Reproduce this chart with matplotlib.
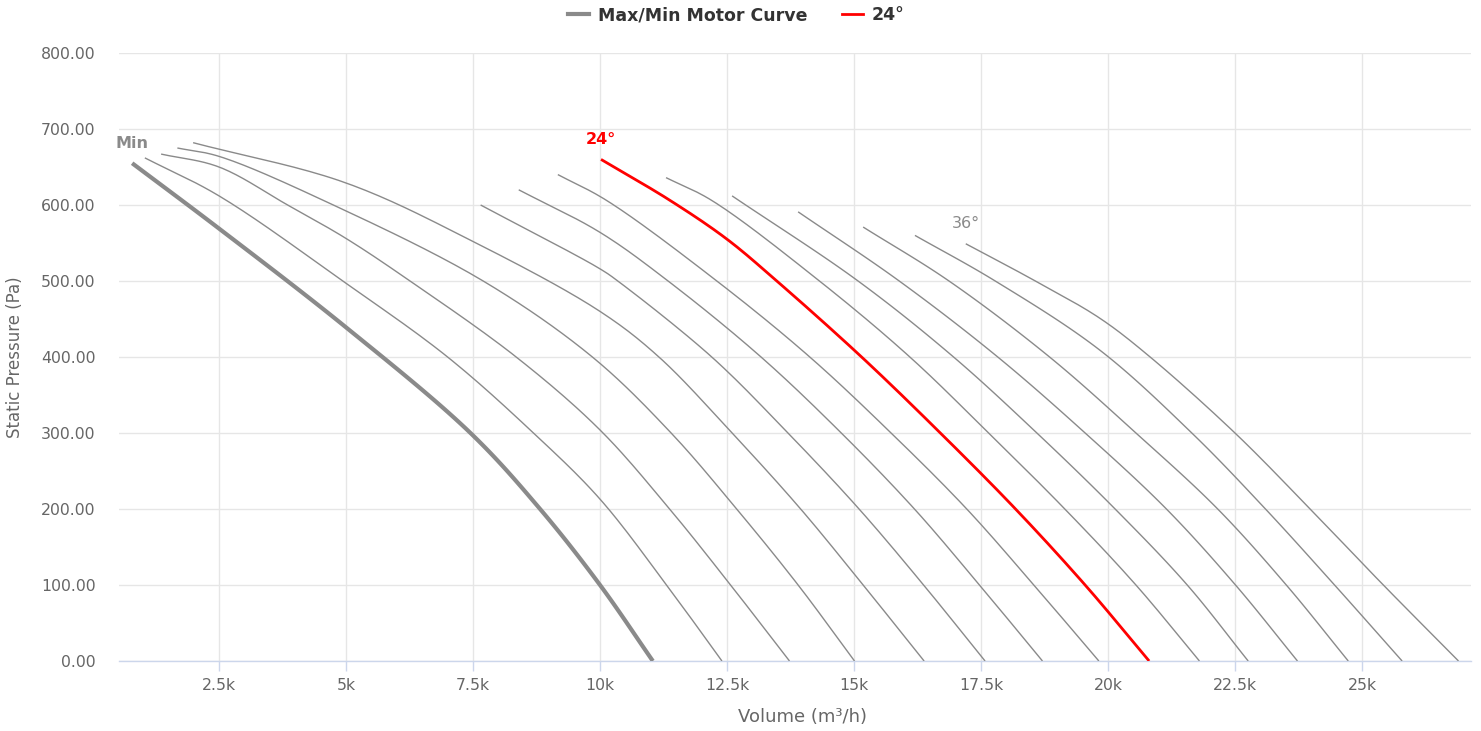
import numpy as np
import matplotlib
matplotlib.use("Agg")
import matplotlib.pyplot as plt
from matplotlib.lines import Line2D

# Max/Min motor curve (thick grey), volume in m3/h, static pressure in Pa
min_q = [790, 2500, 5000, 7450, 8820, 10000, 11040]
min_p = [655, 569, 439, 300, 200, 100, 0]

# blade angle curves, 10 deg .. 36 deg in 2 deg steps
q10 = [1040, 2500, 5000, 7000, 8690, 10000, 11310, 12400]
p10 = [662, 612, 497, 400, 300, 213, 100, 0]
q12 = [1360, 2500, 3850, 5000, 6260, 8350, 10000, 11370, 12570, 13730]
p12 = [667, 650, 600, 556, 500, 400, 304, 200, 100, 0]
q14 = [1680, 2500, 4750, 7700, 9850, 11400, 12690, 13900, 15010]
p14 = [675, 664, 600, 500, 400, 300, 200, 100, 0]
q16 = [1990, 5000, 7500, 10000, 11160, 12600, 13950, 15180, 16380]
p16 = [682, 629, 552, 460, 400, 300, 200, 100, 0]
q18 = [7650, 10000, 10350, 12200, 13700, 15100, 16370, 17580]
p18 = [600, 516, 500, 400, 300, 200, 100, 0]
q20 = [8400, 10000, 11340, 13170, 14750, 16190, 17470, 18710]
p20 = [620, 564, 500, 400, 300, 200, 100, 0]
q22 = [9170, 10130, 12300, 14130, 15730, 17220, 18540, 19820]
p22 = [640, 606, 500, 400, 300, 200, 100, 0]
q24 = [10020, 11380, 12500, 13480, 15150, 16700, 18180, 19550, 20810]
p24 = [660, 606, 555, 500, 400, 300, 200, 100, 0]
q26 = [11300, 12200, 14320, 16100, 17650, 19150, 20550, 21800]
p26 = [636, 606, 500, 400, 300, 200, 100, 0]
q28 = [12600, 15080, 16960, 18600, 20140, 21560, 22760]
p28 = [612, 500, 400, 300, 200, 100, 0]
q30 = [13900, 15890, 17830, 19550, 21150, 22510, 23730]
p30 = [591, 500, 400, 300, 200, 100, 0]
q32 = [15180, 16870, 18850, 20550, 22160, 23510, 24730]
p32 = [571, 500, 400, 300, 200, 100, 0]
q34 = [16200, 17780, 19840, 21650, 23100, 24460, 25790]
p34 = [560, 500, 409, 300, 200, 100, 0]
q36 = [17200, 18570, 19840, 20830, 22500, 23980, 25420, 26900]
p36 = [549, 500, 451, 400, 300, 200, 100, 0]

grey_curves = [(q10, p10), (q12, p12), (q14, p14), (q16, p16), (q18, p18),
               (q20, p20), (q22, p22), (q26, p26), (q28, p28), (q30, p30),
               (q32, p32), (q34, p34), (q36, p36)]

x_ticks = [2500, 5000, 7500, 10000, 12500, 15000, 17500, 20000, 22500, 25000]
x_labels = ["2.5k", "5k", "7.5k", "10k", "12.5k", "15k", "17.5k", "20k", "22.5k", "25k"]
y_ticks = [0, 100, 200, 300, 400, 500, 600, 700, 800]

GREY = "#8a8a8a"
RED = "#ff0000"


def spline(q, p, n=20):
    """Centripetal Catmull-Rom through the points, like a spline series."""
    sx, sy = 50.8 / 1000, 0.76  # roughly pixels per unit, keeps the knots sane
    P = np.column_stack([q, p]).astype(float) * [sx, sy]
    P = np.vstack([2 * P[0] - P[1], P, 2 * P[-1] - P[-2]])
    out = []
    for i in range(1, len(P) - 2):
        p0, p1, p2, p3 = P[i - 1], P[i], P[i + 1], P[i + 2]
        t0 = 0.0
        t1 = t0 + np.linalg.norm(p1 - p0) ** 0.5
        t2 = t1 + np.linalg.norm(p2 - p1) ** 0.5
        t3 = t2 + np.linalg.norm(p3 - p2) ** 0.5
        t = np.linspace(t1, t2, n, endpoint=False)[:, None]
        a1 = (t1 - t) / (t1 - t0) * p0 + (t - t0) / (t1 - t0) * p1
        a2 = (t2 - t) / (t2 - t1) * p1 + (t - t1) / (t2 - t1) * p2
        a3 = (t3 - t) / (t3 - t2) * p2 + (t - t2) / (t3 - t2) * p3
        b1 = (t2 - t) / (t2 - t0) * a1 + (t - t0) / (t2 - t0) * a2
        b2 = (t3 - t) / (t3 - t1) * a2 + (t - t1) / (t3 - t1) * a3
        out.append((t2 - t) / (t2 - t1) * b1 + (t - t1) / (t2 - t1) * b2)
    out.append(P[-2][None, :])
    res = np.vstack(out) / [sx, sy]
    return res[:, 0], res[:, 1]


fig = plt.figure(figsize=(14.81, 7.31), dpi=100)
ax = fig.add_axes([119 / 1481, 1 - 661 / 731, 1352 / 1481, 608 / 731])

for q, p in grey_curves:
    ax.plot(*spline(q, p), color=GREY, lw=1.0, solid_capstyle="butt", zorder=3)
ax.plot(*spline(min_q, min_p), color=GREY, lw=3.0, solid_capstyle="butt", zorder=4)
ax.plot(*spline(q24, p24), color=RED, lw=2.0, solid_capstyle="butt", zorder=5)

# labels above first points
ax.annotate("Min", (min_q[0], min_p[0]), xytext=(0, 20), textcoords="offset pixels",
            ha="center", va="center", color=GREY, fontsize=11.5, fontweight="bold")
ax.annotate("24°", (q24[0], p24[0]), xytext=(0, 20), textcoords="offset pixels",
            ha="center", va="center", color=RED, fontsize=11.5, fontweight="bold")
ax.annotate("36°", (q36[0], p36[0]), xytext=(0, 20), textcoords="offset pixels",
            ha="center", va="center", color=GREY, fontsize=11.5)

ax.set_xlim(531, 27146)
ax.set_ylim(0, 800)
ax.set_xticks(x_ticks)
ax.set_xticklabels(x_labels)
ax.set_yticks(y_ticks)
ax.set_yticklabels([f"{v:.2f}" for v in y_ticks])

ax.grid(True, color="#e6e6e6", lw=1.0, zorder=0)
ax.set_axisbelow(True)
for side in ["top", "right", "left"]:
    ax.spines[side].set_visible(False)
ax.spines["bottom"].set_color("#ccd6eb")
ax.spines["bottom"].set_linewidth(1.0)

ax.tick_params(axis="x", colors="#ccd6eb", length=7, width=1, pad=5,
               labelcolor="#666666", labelsize=11.3)
ax.tick_params(axis="y", length=0, pad=17, labelcolor="#666666", labelsize=11.3)

fig.text(15 / 1481, 1 - 357 / 731, "Static Pressure (Pa)", rotation=90,
         ha="center", va="center", color="#666666", fontsize=12)
fig.text(803 / 1481, 1 - 717 / 731, "Volume (m³/h)",
         ha="center", va="center", color="#666666", fontsize=13)

handles = [Line2D([], [], color=GREY, lw=3.0), Line2D([], [], color=RED, lw=2.0)]
fig.legend(handles, ["Max/Min Motor Curve", "24°"], loc="center",
           bbox_to_anchor=(0.497, 1 - 15 / 731), ncol=2, frameon=False,
           handlelength=1.2, handletextpad=0.5, columnspacing=2.0,
           prop={"weight": "bold", "size": 12.5}, labelcolor="#333333")

fig.savefig("out.png", dpi=100)
